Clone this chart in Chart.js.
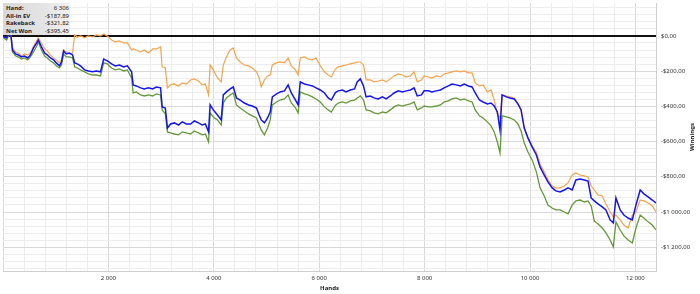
<!DOCTYPE html>
<html>
<head>
<meta charset="utf-8">
<script src="https://cdn.jsdelivr.net/npm/chart.js@4.4.1/dist/chart.umd.min.js"></script>
<style>
    html, body { margin: 0; padding: 0; background: #fff; }
    #wrap { position: relative; width: 700px; height: 294px; }
    #info {
        position: absolute; left: 3px; top: 3px; width: 67px; height: 32px;
        background: linear-gradient(to right, #d8d8d8 0%, #e4e4e4 60%, #f0f0f0 100%);
        font-family: "Noto Sans", sans-serif; font-size: 6px; color: #222;
    }
    #info .row { position: absolute; left: 3px; right: 1px; height: 7px; line-height: 7px; }
    #info .row b { font-weight: bold; }
    #info .row span { position: absolute; right: 0; top: 0; }
</style>
</head>
<body>
<div id="wrap">
    <canvas id="chart" width="700" height="294"></canvas>
    <div id="info">
        <div class="row" style="top:2px"><b>Hand:</b><span>6 306</span></div>
        <div class="row" style="top:9.5px"><b>All-in EV</b><span>-$187,89</span></div>
        <div class="row" style="top:17px"><b>Rakeback</b><span>-$321,82</span></div>
        <div class="row" style="top:24.5px"><b>Net Won</b><span>-$395,45</span></div>
    </div>
</div>
<script>
// ----------------------------------------------------
// DATA (hands played, cumulative winnings in $)
// ----------------------------------------------------
const hands = [
    10, 70, 120, 140, 180, 240, 290, 350, 410, 470,
    520, 580, 640, 670, 730, 790, 840, 900, 960, 1010,
    1070, 1110, 1150, 1200, 1260, 1320, 1360, 1410, 1470, 1550,
    1620, 1700, 1770, 1850, 1910, 1980, 2060, 2130, 2210, 2290,
    2360, 2440, 2470, 2530, 2610, 2680, 2760, 2840, 2910, 2990,
    3020, 3080, 3120, 3180, 3250, 3330, 3400, 3480, 3560, 3630,
    3710, 3780, 3840, 3900, 3930, 3990, 4070, 4140, 4180, 4240,
    4310, 4370, 4430, 4500, 4580, 4660, 4730, 4810, 4860, 4900,
    4960, 5020, 5070, 5110, 5190, 5260, 5340, 5410, 5470, 5550,
    5600, 5640, 5720, 5790, 5870, 5940, 6020, 6100, 6170, 6230,
    6306, 6360, 6440, 6510, 6590, 6670, 6720, 6780, 6840, 6890,
    6970, 7040, 7120, 7200, 7270, 7350, 7420, 7500, 7580, 7650,
    7730, 7800, 7860, 7940, 7990, 8070, 8140, 8220, 8300, 8370,
    8450, 8520, 8600, 8680, 8750, 8830, 8900, 8960, 9040, 9110,
    9190, 9260, 9320, 9380, 9430, 9470, 9550, 9620, 9700, 9770,
    9830, 9890, 9960, 10040, 10120, 10190, 10270, 10340, 10420, 10490,
    10570, 10650, 10720, 10800, 10870, 10950, 11030, 11100, 11160, 11220,
    11290, 11370, 11440, 11520, 11580, 11630, 11710, 11780, 11860, 11940,
    12010, 12090, 12160, 12240, 12320, 12390
];

const allInEv = [
    -6, -11, 17, 34, -68, -91, -97, -114, -102, -108,
    -97, -57, -28, -11, -40, -74, -85, -108, -125, -136,
    -153, -136, -80, -91, -102, -97, 6, -6, 0, -11,
    0, -6, 6, 0, 11, 0, -23, -34, -28, -40,
    -40, -80, -74, -80, -91, -80, -97, -74, -74, -62,
    -176, -182, -295, -278, -273, -284, -267, -273, -250, -244,
    -256, -278, -273, -335, -165, -193, -239, -261, -165, -119,
    -80, -68, -125, -148, -165, -170, -182, -204, -239, -290,
    -250, -227, -222, -165, -153, -148, -153, -125, -170, -193,
    -222, -125, -119, -131, -136, -125, -170, -204, -222, -233,
    -188, -176, -170, -165, -159, -153, -148, -148, -165, -250,
    -250, -261, -256, -250, -261, -244, -227, -216, -222, -233,
    -227, -204, -261, -250, -227, -233, -239, -227, -233, -216,
    -210, -204, -199, -204, -199, -210, -210, -267, -284, -278,
    -318, -307, -364, -443, -466, -335, -341, -346, -352, -386,
    -420, -523, -579, -625, -659, -727, -772, -818, -852, -863,
    -863, -852, -835, -790, -778, -790, -795, -801, -852, -875,
    -903, -909, -954, -1000, -1028, -1017, -1045, -1074, -1091, -1017,
    -1000, -932, -937, -949, -966, -1000
];

const rakeback = [
    -6, -11, 17, 34, -80, -102, -108, -119, -114, -125,
    -108, -68, -40, -23, -62, -97, -108, -125, -136, -153,
    -170, -148, -85, -102, -97, -108, -153, -159, -170, -193,
    -199, -204, -199, -204, -131, -142, -159, -170, -165, -176,
    -170, -204, -278, -284, -295, -301, -295, -301, -290, -295,
    -403, -409, -523, -500, -494, -506, -488, -500, -500, -483,
    -494, -506, -500, -545, -392, -420, -449, -477, -335, -318,
    -301, -290, -352, -364, -381, -392, -398, -409, -449, -477,
    -494, -466, -432, -346, -329, -318, -312, -278, -324, -364,
    -392, -261, -273, -278, -284, -295, -307, -324, -352, -364,
    -322, -312, -307, -318, -307, -301, -261, -244, -284, -346,
    -341, -352, -358, -346, -358, -341, -324, -312, -318, -312,
    -307, -295, -341, -335, -312, -312, -318, -312, -307, -295,
    -284, -273, -278, -284, -273, -284, -290, -324, -364, -375,
    -386, -381, -398, -432, -534, -335, -346, -352, -358, -386,
    -420, -523, -579, -630, -676, -744, -790, -829, -863, -880,
    -886, -875, -863, -875, -818, -812, -818, -824, -920, -937,
    -954, -971, -988, -1045, -1062, -920, -988, -1017, -1034, -1045,
    -960, -875, -897, -914, -932, -949
];

const netWon = [
    -11, -23, 11, 40, -91, -114, -119, -131, -125, -136,
    -119, -91, -57, -34, -80, -114, -125, -142, -153, -170,
    -182, -165, -102, -119, -119, -125, -176, -182, -193, -204,
    -216, -222, -222, -227, -153, -159, -182, -193, -187, -199,
    -193, -239, -324, -318, -335, -341, -335, -341, -329, -335,
    -420, -443, -545, -551, -557, -562, -545, -551, -557, -540,
    -551, -562, -557, -602, -437, -460, -477, -506, -381, -352,
    -335, -324, -392, -409, -426, -443, -454, -466, -506, -534,
    -562, -523, -477, -392, -375, -364, -358, -335, -381, -409,
    -437, -318, -329, -335, -346, -358, -375, -403, -420, -432,
    -395, -381, -375, -381, -369, -364, -352, -341, -364, -420,
    -426, -437, -443, -432, -437, -420, -403, -392, -398, -392,
    -386, -375, -420, -409, -398, -403, -403, -398, -392, -375,
    -369, -358, -352, -364, -358, -369, -375, -420, -454, -466,
    -488, -511, -545, -602, -665, -454, -460, -466, -477, -500,
    -540, -608, -659, -704, -772, -863, -909, -960, -977, -988,
    -988, -1000, -1011, -960, -937, -932, -943, -937, -966, -1051,
    -1068, -1091, -1119, -1159, -1198, -1056, -1102, -1136, -1159, -1176,
    -1091, -1017, -1034, -1056, -1074, -1102
];

// axis range and tick steps
const xMax = 12390;
const xGridStep = 400;
const xLabelStep = 2000;
const yMin = -1335;
const yMax = 187;
const yGridStep = 40;
const yLabelStep = 200;

const FONT = '"Noto Sans", sans-serif';

// ----------------------------------------------------
// HELPERS
// ----------------------------------------------------
function thousands(n) {
    return String(Math.abs(n)).replace(/\B(?=(\d{3})+(?!\d))/g, " ");
}

function money(v) {
    return (v < 0 ? "-" : "") + "$" + thousands(v) + ",00";
}

function points(ys) {
    return hands.map((h, i) => ({ x: h, y: ys[i] }));
}

// "Winnings" reads bottom-to-top, so draw it by hand
const yTitlePlugin = {
    id: "yTitle",
    afterDraw(chart) {
        const { ctx, chartArea } = chart;
        ctx.save();
        ctx.translate(692, (chartArea.top + chartArea.bottom) / 2);
        ctx.rotate(-Math.PI / 2);
        ctx.font = "bold 6px " + FONT;
        ctx.fillStyle = "#222";
        ctx.textAlign = "center";
        ctx.textBaseline = "middle";
        ctx.fillText("Winnings", 0, 0);
        ctx.restore();
    }
};

// ----------------------------------------------------
// CHART
// ----------------------------------------------------
new Chart(document.getElementById("chart"), {
    type: "line",
    data: {
        datasets: [
            { label: "Rakeback", data: points(rakeback), borderColor: "#1414f0", borderWidth: 1.5, order: 0 },
            { label: "All-in EV", data: points(allInEv), borderColor: "#f8a24c", borderWidth: 1.2, order: 1 },
            { label: "Net Won", data: points(netWon), borderColor: "#64993a", borderWidth: 1.3, order: 2 }
        ]
    },
    options: {
        responsive: false,
        animation: false,
        events: [],
        elements: { point: { radius: 0 }, line: { tension: 0 } },
        layout: { padding: { left: 3, top: 3, right: 0, bottom: 0 } },
        plugins: { legend: { display: false }, tooltip: { enabled: false } },
        scales: {
            x: {
                type: "linear",
                min: 0,
                max: xMax,
                afterBuildTicks(scale) {
                    const t = [];
                    for (let v = 0; v <= xMax; v += xGridStep) t.push({ value: v });
                    scale.ticks = t;
                },
                afterFit(scale) {
                    scale.height = 23;
                    scale.paddingLeft = 0;
                    scale.paddingRight = 0;
                },
                grid: {
                    drawTicks: false,
                    color: c => c.tick && c.tick.value % xLabelStep === 0 ? "#d9d9d9" : "#ededed",
                    lineWidth: 1
                },
                border: { color: "#d0d0d0" },
                ticks: {
                    autoSkip: false,
                    maxRotation: 0,
                    padding: 4,
                    color: "#333",
                    font: { family: FONT, size: 6 },
                    callback: v => (v > 0 && v % xLabelStep === 0) ? thousands(v) : ""
                },
                title: {
                    display: true,
                    text: "Hands",
                    color: "#222",
                    font: { family: FONT, size: 6, weight: "bold" },
                    padding: { top: 0, bottom: 2 }
                }
            },
            y: {
                position: "right",
                min: yMin,
                max: yMax,
                afterBuildTicks(scale) {
                    const t = [];
                    const start = Math.ceil(yMin / yGridStep) * yGridStep;
                    for (let v = start; v <= yMax; v += yGridStep) t.push({ value: v });
                    scale.ticks = t;
                },
                afterFit(scale) {
                    scale.width = 44;
                    scale.paddingTop = 0;
                    scale.paddingBottom = 0;
                },
                grid: {
                    drawTicks: false,
                    color: c => {
                        const v = c.tick && c.tick.value;
                        if (v === 0) return "#111";
                        return v % yLabelStep === 0 ? "#d9d9d9" : "#ededed";
                    },
                    lineWidth: c => (c.tick && c.tick.value === 0) ? 2 : 1
                },
                border: { color: "#d0d0d0" },
                ticks: {
                    autoSkip: false,
                    padding: 5,
                    color: "#333",
                    font: { family: FONT, size: 6 },
                    callback: v => v % yLabelStep === 0 ? money(v) : ""
                }
            }
        }
    },
    plugins: [yTitlePlugin]
});
</script>
</body>
</html>
